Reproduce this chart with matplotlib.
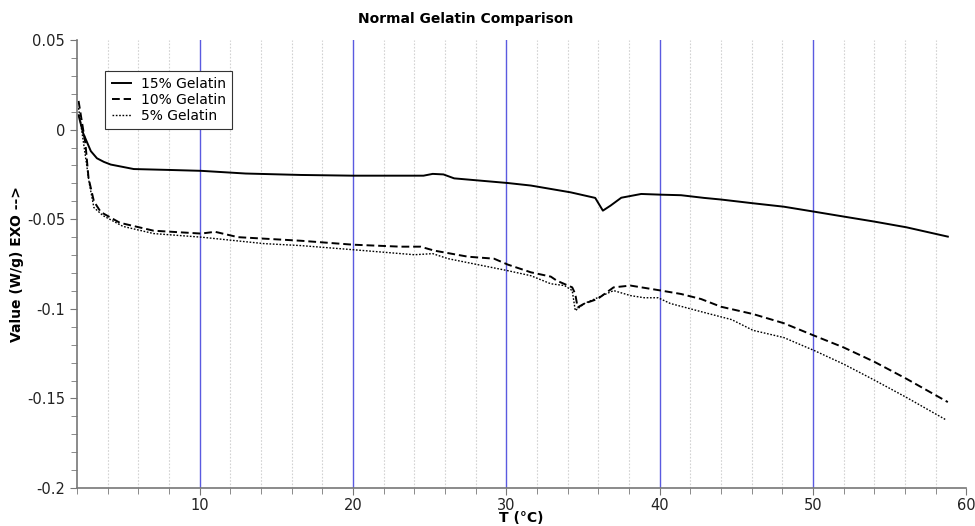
import matplotlib
matplotlib.use("Agg")
import matplotlib.pyplot as plt
from matplotlib.ticker import MultipleLocator, FuncFormatter

# data
x15 = [2.1, 2.4, 2.9, 3.3, 3.75, 4.2, 5.7, 8.0, 10.1, 13.0, 16.6, 20.0, 24.6, 25.2, 25.9, 26.6,
       30.1, 31.6, 32.9, 34.2, 35.8, 36.3, 36.8, 37.5, 38.8, 40.1, 41.4, 42.9, 44.0, 46.1,
       48.1, 50.1, 52.0, 54.0, 56.1, 58.8]
y15 = [0.008, -0.002, -0.012, -0.016, -0.018, -0.0195, -0.022, -0.0225, -0.023, -0.0245,
       -0.0253, -0.0257, -0.0257, -0.0247, -0.025, -0.0272, -0.0298, -0.0312, -0.0331, -0.035,
       -0.0381, -0.0452, -0.0424, -0.038, -0.0359, -0.0363, -0.0366, -0.0381, -0.039, -0.0411,
       -0.043, -0.0458, -0.0485, -0.0513, -0.0545, -0.0597]

x10 = [2.1, 2.55, 2.75, 3.1, 3.55, 4.8, 7.0, 10.1, 11.0, 12.5, 16.6, 20.0, 23.1, 24.4, 25.3,
       27.5, 29.2, 30.1, 31.6, 32.9, 33.3, 34.3, 34.5, 34.65, 35.1, 35.95, 37.0, 38.1, 40.1,
       41.4, 42.7, 44.0, 46.1, 48.1, 50.1, 52.0, 54.0, 56.1, 58.8]
y10 = [0.016, -0.008, -0.027, -0.040, -0.046, -0.052, -0.0564, -0.058, -0.057, -0.060, -0.062,
       -0.0642, -0.0653, -0.0653, -0.0675, -0.0709, -0.072, -0.0753, -0.0796, -0.082, -0.0843,
       -0.088, -0.0917, -0.0992, -0.097, -0.0945, -0.088, -0.087, -0.0898, -0.0917, -0.0945,
       -0.0988, -0.1029, -0.108, -0.115, -0.1215, -0.1295, -0.139, -0.152]

x5 = [2.1, 2.5, 2.8, 3.1, 3.7, 5.0, 7.0, 10.1, 14.2, 16.6, 20.0, 24.0, 25.2, 26.2, 30.1, 31.6,
      32.9, 33.8, 34.3, 34.5, 35.1, 37.0, 38.1, 39.0, 39.9, 40.7, 42.9, 44.7, 46.1, 48.1,
      50.1, 52.0, 54.0, 56.1, 58.7]
y5 = [0.012, -0.012, -0.030, -0.0435, -0.048, -0.054, -0.058, -0.060, -0.0636, -0.0647, -0.067,
      -0.0698, -0.0692, -0.072, -0.0787, -0.0815, -0.086, -0.087, -0.0898, -0.101, -0.097,
      -0.0898, -0.0926, -0.0938, -0.0938, -0.097, -0.102, -0.106, -0.112, -0.116, -0.1233,
      -0.1308, -0.1397, -0.1494, -0.162]

labels = ["15% Gelatin", "10% Gelatin", "5% Gelatin"]

plt.rcParams['axes.unicode_minus'] = False

fig = plt.figure(figsize=(9.75, 5.26), dpi=100)
ax = fig.add_axes([0.079, 0.072, 0.912, 0.852])

# vertical grid: gray dotted every 2, blue every 10
for gx in range(4, 60, 2):
    if gx % 10 == 0:
        ax.axvline(gx, color='#5a5ae0', lw=1.0, zorder=0)
    else:
        ax.axvline(gx, color='#d2d2d2', lw=0.8, ls=(0, (1.5, 1.5)), zorder=0)

ax.plot(x15, y15, color='black', lw=1.4, label=labels[0])
ax.plot(x10, y10, color='black', lw=1.4, ls=(0, (4, 2)), label=labels[1])
ax.plot(x5, y5, color='black', lw=1.0, ls=(0, (1.2, 1.2)), label=labels[2])

ax.set_xlim(2, 60)
ax.set_ylim(-0.2, 0.05)
ax.xaxis.set_major_locator(MultipleLocator(10))
ax.xaxis.set_minor_locator(MultipleLocator(2))
ax.yaxis.set_major_locator(MultipleLocator(0.05))
ax.yaxis.set_minor_locator(MultipleLocator(0.01))
ax.yaxis.set_major_formatter(FuncFormatter(lambda v, p: '%g' % round(v, 3)))

for s in ['top', 'right']:
    ax.spines[s].set_visible(False)
for s in ['left', 'bottom']:
    ax.spines[s].set_color('#777777')
    ax.spines[s].set_linewidth(1.2)
ax.tick_params(which='both', direction='out', color='#777777', labelsize=10.5, labelcolor='#222222')
ax.tick_params(which='major', length=5)
ax.tick_params(which='minor', length=4)
ax.tick_params(axis='x', pad=2)

ax.set_xlabel('T (°C)', fontweight='bold', fontsize=10, labelpad=-1)
ax.set_ylabel('Value (W/g) EXO -->', fontweight='bold', fontsize=10, labelpad=2)
fig.suptitle('Normal Gelatin Comparison', fontweight='bold', fontsize=10, x=0.478, y=0.978)

leg = ax.legend(loc='upper left', bbox_to_anchor=(0.024, 0.947), fontsize=10, frameon=True,
                fancybox=False, framealpha=1, edgecolor='#333333', handlelength=1.4,
                handletextpad=0.7, borderpad=0.45, labelspacing=0.15)
leg.get_frame().set_linewidth(0.8)

fig.savefig('out.png', dpi=100)
